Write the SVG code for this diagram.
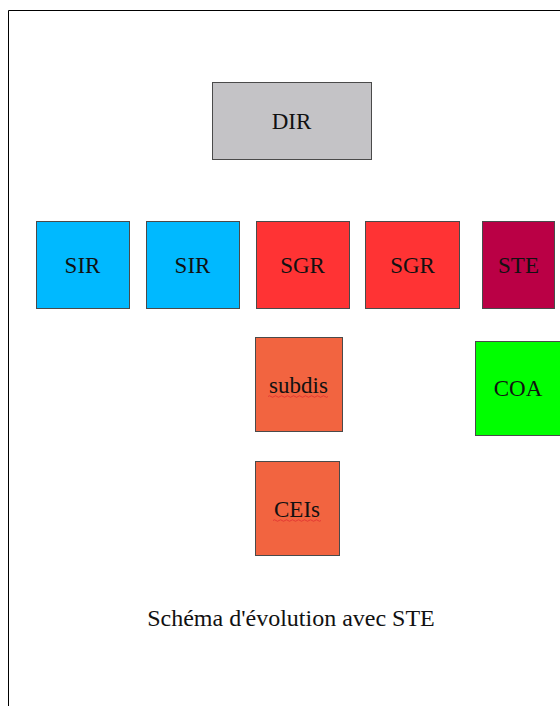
<svg xmlns="http://www.w3.org/2000/svg" width="560" height="706" viewBox="0 0 560 706">
<style>
.box{stroke:#4a4a4a;stroke-width:1}
.lbl{font-family:"Liberation Serif","Times New Roman",serif;font-size:23px;fill:#111;text-anchor:middle}
.title{font-family:"Liberation Serif","Times New Roman",serif;font-size:24px;fill:#111;text-anchor:middle}
.wavy{fill:none;stroke:#e03030;stroke-width:0.8}
</style>
<rect x="0" y="0" width="560" height="706" fill="#ffffff"/>
<path d="M8.5 706 V10.5 H560" fill="none" stroke="#000" stroke-width="1"/>
<g id="dir"><rect class="box" x="212.5" y="82.5" width="159" height="77" fill="#c4c3c6"/><text class="lbl" x="291.5" y="129">DIR</text></g>
<g id="sir1"><rect class="box" x="36.5" y="221.5" width="93" height="87" fill="#00b9ff"/><text class="lbl" x="82.5" y="273">SIR</text></g>
<g id="sir2"><rect class="box" x="146.5" y="221.5" width="93" height="87" fill="#00b9ff"/><text class="lbl" x="192.5" y="273">SIR</text></g>
<g id="sgr1"><rect class="box" x="256.5" y="221.5" width="93" height="87" fill="#ff3334"/><text class="lbl" x="302.5" y="273">SGR</text></g>
<g id="sgr2"><rect class="box" x="365.5" y="221.5" width="94" height="87" fill="#ff3334"/><text class="lbl" x="412.5" y="273">SGR</text></g>
<g id="ste"><rect class="box" x="482.5" y="221.5" width="72" height="87" fill="#ba0045"/><text class="lbl" x="518.5" y="273">STE</text></g>
<g id="subdis"><rect class="box" x="255.5" y="337.5" width="87" height="94" fill="#f26440"/><text class="lbl" x="298.5" y="393">subdis</text><path class="wavy" d="M268 396.5 q1.5 -1.5 3 0 t3 0 t3 0 t3 0 t3 0 t3 0 t3 0 t3 0 t3 0 t3 0 t3 0 t3 0 t3 0 t3 0 t3 0 t3 0 t3 0 t3 0 t3 0 t3 0"/></g>
<g id="coa"><rect class="box" x="475.5" y="341.5" width="90" height="94" fill="#00ff00"/><text class="lbl" x="518" y="396">COA</text></g>
<g id="ceis"><rect class="box" x="255.5" y="461.5" width="84" height="94" fill="#f26440"/><text class="lbl" x="297" y="517">CEIs</text><path class="wavy" d="M273 520.5 q1.5 -1.5 3 0 t3 0 t3 0 t3 0 t3 0 t3 0 t3 0 t3 0 t3 0 t3 0 t3 0 t3 0 t3 0 t3 0 t3 0 t3 0"/></g>
<g id="connectors"></g>
<text class="title" x="291" y="626">Schéma d'évolution avec STE</text>
</svg>
